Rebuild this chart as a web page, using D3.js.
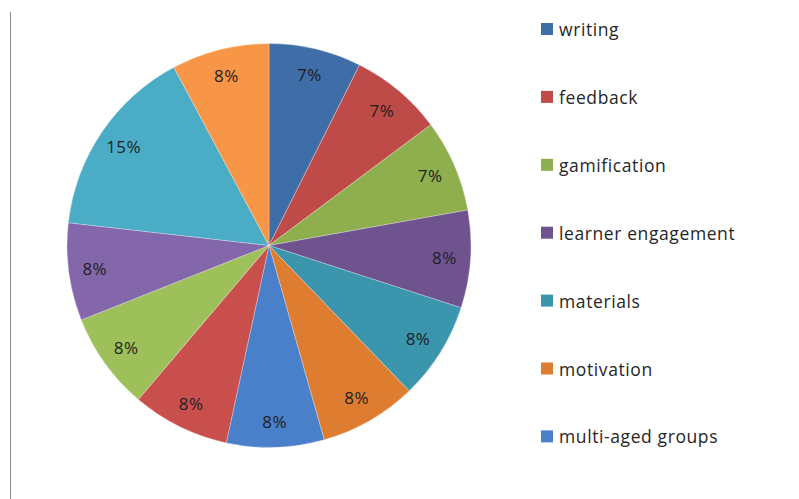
<!DOCTYPE html>
<html>
<head>
<meta charset="utf-8">
<script src="https://cdn.jsdelivr.net/npm/d3@7/dist/d3.min.js"></script>
<style>
  html, body { margin: 0; padding: 0; background: #fff; }
  svg { display: block; }
</style>
</head>
<body>
<svg id="chart" width="799" height="499"></svg>
<script>
// Slice names (only the first seven appear in the reference legend)
const categories = ["writing", "feedback", "gamification", "learner engagement", "materials",
  "motivation", "multi-aged groups", "slice 8", "slice 9", "slice 10", "slice 11", "slice 12"];
// Slice values (labels are their shares of the total)
const values = [7.3, 7.3, 7.3, 7.7, 7.7, 7.7, 7.7, 7.7, 7.7, 7.7, 15.2, 7.7];
const colors = ["#3F6DA8", "#BE4B48", "#8FAE4E", "#6F538F", "#3B95AC", "#DE7C30",
  "#4A7FC9", "#C94F4C", "#9EC05A", "#8466AA", "#4BACC6", "#F79646"];
const legendCount = 7;

const svg = d3.select("#chart");
const cx = 269, cy = 245.5, R = 202;

// left border line
svg.append("line").attr("x1", 10.5).attr("x2", 10.5).attr("y1", 12).attr("y2", 499)
  .attr("stroke", "#8c8c8c").attr("stroke-width", 1);

const total = d3.sum(values);
const pie = d3.pie().sort(null).value(d => d)(values);
const arc = d3.arc().innerRadius(0).outerRadius(R);
const labelArc = d3.arc().innerRadius(R * 0.87).outerRadius(R * 0.87);
const pct = d3.format(".0%");

const g = svg.append("g").attr("transform", `translate(${cx},${cy})`);
g.selectAll("path").data(pie).join("path")
  .attr("d", arc)
  .attr("fill", (d, i) => colors[i])
  .attr("stroke", "rgba(255,255,255,0.35)")
  .attr("stroke-width", 0.8);

g.selectAll("text").data(pie).join("text")
  .attr("transform", d => `translate(${labelArc.centroid(d)})`)
  .attr("text-anchor", "middle")
  .attr("dominant-baseline", "central")
  .attr("font-family", "'Open Sans', sans-serif")
  .attr("font-size", 17)
  .attr("letter-spacing", 0.5)
  .attr("fill", "#1e1e1e")
  .text(d => pct(d.value / total));

// legend
const legend = svg.append("g");
const items = legend.selectAll("g").data(categories.slice(0, legendCount)).join("g")
  .attr("transform", (d, i) => `translate(541, ${29 + i * 67.9})`);
items.append("rect").attr("x", 0).attr("y", -6).attr("width", 12).attr("height", 12)
  .attr("fill", (d, i) => colors[i]);
items.append("text").attr("x", 18).attr("y", 0)
  .attr("dominant-baseline", "central")
  .attr("font-family", "'Open Sans', sans-serif")
  .attr("font-size", 17.5)
  .attr("letter-spacing", 0.6)
  .attr("fill", "#262626")
  .text(d => d);
</script>
</body>
</html>
